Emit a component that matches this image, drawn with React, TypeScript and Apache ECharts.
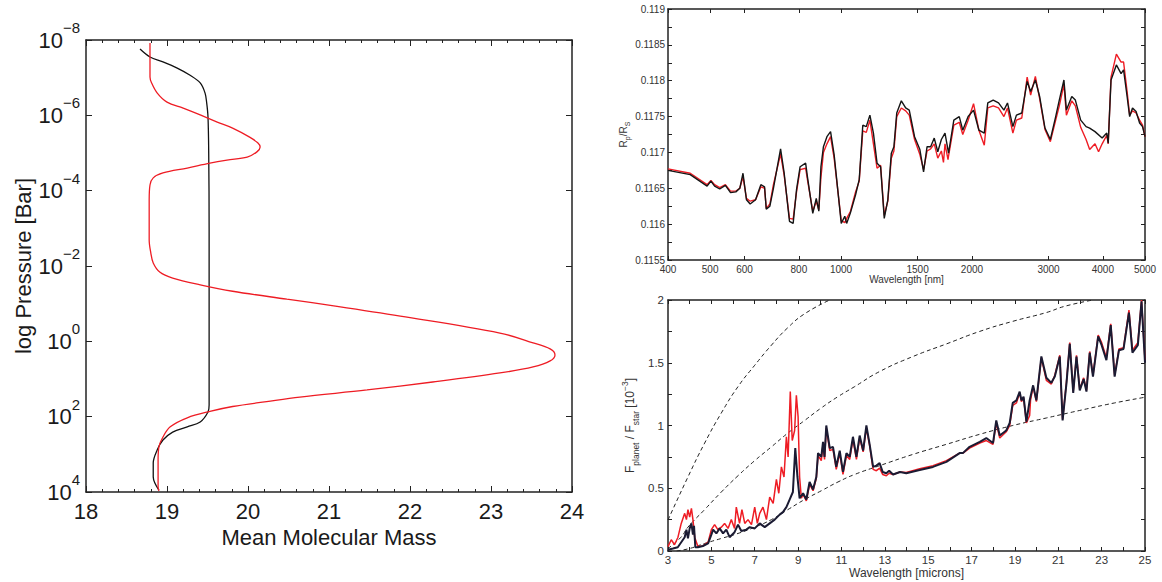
import React, { useEffect, useRef } from "react";
import * as echarts from "echarts";

const FONT = "'Liberation Sans', Arial, Helvetica, sans-serif";

// ---------- Left panel: mean molecular mass vs log10 pressure [bar] ----------
const MMM_RED: [number, number][] = [
  [18.79, -7.92], [18.79, -7.5], [18.79, -7.02], [18.81, -6.86], [18.88, -6.59], [19.0, -6.35],
  [19.2, -6.19], [19.41, -6.01], [19.62, -5.82], [19.81, -5.66], [20.02, -5.42], [20.12, -5.27],
  [20.15, -5.16], [20.11, -5.03], [19.99, -4.89], [19.74, -4.81], [19.53, -4.73], [19.25, -4.6],
  [18.95, -4.47], [18.83, -4.34], [18.79, -4.15], [18.78, -3.75], [18.78, -2.69], [18.8, -2.35],
  [18.83, -2.08], [18.91, -1.84], [19.07, -1.68], [19.41, -1.5], [19.81, -1.33], [20.48, -1.12],
  [21.1, -0.93], [21.88, -0.67], [23.11, -0.22], [23.52, 0.04], [23.73, 0.2], [23.79, 0.36],
  [23.73, 0.52], [23.52, 0.68], [23.11, 0.84], [22.28, 1.08], [21.47, 1.29], [20.64, 1.48],
  [20.23, 1.6], [19.81, 1.73], [19.53, 1.86], [19.25, 2.03], [19.04, 2.27], [18.95, 2.54],
  [18.9, 2.8], [18.89, 3.15], [18.89, 3.49], [18.89, 3.87], [18.9, 3.97],
];
const MMM_BLACK: [number, number][] = [
  [18.667, -7.76], [18.79, -7.55], [18.95, -7.42], [19.12, -7.26], [19.28, -7.07], [19.41, -6.86],
  [19.47, -6.59], [19.49, -6.33], [19.506, -5.96], [19.515, -5.0], [19.52, -3.0], [19.52, 0.0],
  [19.52, 1.69], [19.506, 1.875], [19.41, 2.14], [19.25, 2.27], [19.07, 2.41], [18.95, 2.62],
  [18.88, 2.88], [18.83, 3.23], [18.83, 3.6], [18.85, 3.76], [18.9, 3.95],
];
const PRESSURE_TICK_EXPONENTS = [-8, -6, -4, -2, 0, 2, 4];

// ---------- Top-right panel: Rp/Rs vs wavelength [nm] ----------
const TR_WL_TICKS = [400, 500, 600, 800, 1000, 1500, 2000, 3000, 4000, 5000];
const TR_Y_LABELS = [0.1155, 0.116, 0.1165, 0.117, 0.1175, 0.118, 0.1185, 0.119];
const TR_Y_TICKS = [0.1155, 0.11575, 0.116, 0.11625, 0.1165, 0.11675, 0.117, 0.11725, 0.1175,
  0.11775, 0.118, 0.11825, 0.1185, 0.11875, 0.119];
const TR_BLACK: [number, number][] = [
  [400, 0.11675], [450, 0.11669], [492, 0.11653], [502, 0.1166], [512, 0.11653], [526, 0.11649],
  [542, 0.11654], [557, 0.11644], [573, 0.11645], [585, 0.1165], [595, 0.11671], [606, 0.11634],
  [618, 0.11628], [636, 0.11634], [654, 0.11655], [667, 0.11652], [673, 0.11621], [686, 0.11625],
  [699, 0.1165], [726, 0.11705], [740, 0.11671], [761, 0.11604], [776, 0.11601], [790, 0.11648],
  [805, 0.1168], [829, 0.11685], [837, 0.11666], [861, 0.11615], [877, 0.11636], [889, 0.11618],
  [899, 0.1168], [911, 0.11708], [928, 0.11722], [946, 0.11729], [964, 0.11697], [1001, 0.11601],
  [1020, 0.11611], [1030, 0.11601], [1050, 0.11615], [1080, 0.11641], [1101, 0.11662], [1122, 0.11738],
  [1143, 0.11736], [1165, 0.11752], [1187, 0.11727], [1210, 0.11685], [1233, 0.1168], [1257, 0.11608],
  [1281, 0.11634], [1305, 0.11699], [1323, 0.11708], [1343, 0.11755], [1376, 0.11772], [1408, 0.11762],
  [1435, 0.11759], [1476, 0.11722], [1518, 0.11704], [1548, 0.11673], [1577, 0.11708], [1607, 0.11708],
  [1638, 0.1172], [1669, 0.11701], [1701, 0.11718], [1734, 0.11727], [1767, 0.11699], [1817, 0.11745],
  [1870, 0.1175], [1905, 0.11731], [1960, 0.1175], [2017, 0.11759], [2075, 0.11731], [2135, 0.11727],
  [2175, 0.11769], [2238, 0.11773], [2302, 0.11769], [2369, 0.11759], [2414, 0.11769], [2484, 0.11736],
  [2531, 0.11752], [2604, 0.11755], [2679, 0.11799], [2729, 0.11785], [2798, 0.11801], [2862, 0.11778],
  [2944, 0.11734], [3029, 0.11718], [3116, 0.1175], [3176, 0.11773], [3255, 0.11801], [3298, 0.11759],
  [3393, 0.11778], [3458, 0.11773], [3557, 0.11745], [3660, 0.11736], [3730, 0.11734], [3837, 0.11729],
  [3985, 0.1172], [4084, 0.11727], [4115, 0.11713], [4177, 0.11801], [4297, 0.11822], [4405, 0.1181],
  [4464, 0.11815], [4548, 0.11778], [4610, 0.1175], [4680, 0.11762], [4769, 0.11757], [4859, 0.11741],
  [4935, 0.11736], [5000, 0.11722],
];
const TR_RED: [number, number][] = [
  [400, 0.11677], [450, 0.11671], [492, 0.11655], [502, 0.11661], [512, 0.11655], [526, 0.11651],
  [542, 0.11655], [557, 0.11646], [573, 0.11646], [585, 0.1165], [595, 0.11666], [606, 0.11636],
  [618, 0.11632], [636, 0.11634], [654, 0.11652], [667, 0.1165], [673, 0.11622], [686, 0.11628],
  [699, 0.11655], [726, 0.11698], [740, 0.11668], [761, 0.11608], [776, 0.11607], [790, 0.11645],
  [805, 0.11676], [829, 0.11678], [837, 0.11662], [861, 0.11618], [877, 0.11632], [889, 0.1162],
  [899, 0.11665], [911, 0.117], [928, 0.11712], [946, 0.11722], [964, 0.11692], [1001, 0.11605],
  [1020, 0.11602], [1030, 0.11608], [1050, 0.11617], [1080, 0.11645], [1101, 0.1166], [1122, 0.1173],
  [1143, 0.11728], [1165, 0.11745], [1187, 0.11712], [1210, 0.11678], [1233, 0.11682], [1257, 0.11612],
  [1281, 0.11632], [1305, 0.11692], [1323, 0.11702], [1343, 0.1175], [1376, 0.11762], [1408, 0.11758],
  [1435, 0.11752], [1476, 0.11718], [1518, 0.11697], [1548, 0.11676], [1577, 0.11702], [1607, 0.11705],
  [1638, 0.11712], [1669, 0.11692], [1701, 0.11702], [1720, 0.11686], [1734, 0.11712], [1762, 0.1169],
  [1767, 0.11695], [1817, 0.11738], [1870, 0.11742], [1905, 0.11725], [1960, 0.11745], [2017, 0.11768],
  [2075, 0.11731], [2135, 0.1171], [2175, 0.11762], [2238, 0.11765], [2302, 0.11762], [2369, 0.1175],
  [2414, 0.11762], [2484, 0.11727], [2531, 0.11745], [2604, 0.11748], [2679, 0.11805], [2729, 0.1178],
  [2798, 0.11806], [2862, 0.11775], [2944, 0.11732], [3029, 0.11715], [3116, 0.11745], [3176, 0.11765],
  [3255, 0.11795], [3298, 0.11752], [3393, 0.11772], [3458, 0.11765], [3557, 0.11735], [3660, 0.11718],
  [3730, 0.11704], [3837, 0.11712], [3910, 0.11701], [3985, 0.11712], [4084, 0.11724], [4115, 0.11712],
  [4177, 0.11805], [4297, 0.11837], [4405, 0.11826], [4464, 0.11826], [4548, 0.11785], [4610, 0.11752],
  [4680, 0.11758], [4769, 0.11755], [4859, 0.11745], [4935, 0.11738], [5000, 0.11722],
];

// ---------- Bottom-right panel: Fplanet/Fstar [1e-3] vs wavelength [microns] ----------
const BR_BLACK: [number, number][] = [
  [3, 0.01], [3.23, 0.02], [3.45, 0.03], [3.61, 0.07], [3.77, 0.11], [3.85, 0.17], [3.92, 0.1],
  [4.0, 0.18], [4.08, 0.22], [4.15, 0.13], [4.2, 0.2], [4.26, 0.03], [4.38, 0.03], [4.61, 0.04],
  [4.85, 0.06], [5.0, 0.13], [5.08, 0.17], [5.23, 0.14], [5.38, 0.18], [5.54, 0.14], [5.69, 0.17],
  [5.84, 0.11], [6.07, 0.15], [6.23, 0.21], [6.38, 0.16], [6.61, 0.17], [6.77, 0.19], [7.0, 0.18],
  [7.23, 0.22], [7.46, 0.19], [7.69, 0.22], [7.92, 0.25], [8.15, 0.29], [8.3, 0.31], [8.46, 0.35],
  [8.61, 0.41], [8.76, 0.47], [8.87, 0.82], [8.97, 0.59], [9.07, 0.42], [9.23, 0.46], [9.38, 0.41],
  [9.53, 0.55], [9.69, 0.49], [9.84, 0.59], [9.92, 0.78], [10.07, 0.75], [10.15, 0.87], [10.22, 0.75],
  [10.3, 1.0], [10.46, 0.82], [10.61, 0.83], [10.76, 0.67], [10.92, 0.8], [11.07, 0.63], [11.23, 0.78],
  [11.38, 0.75], [11.53, 0.91], [11.69, 0.75], [11.84, 0.92], [12.0, 0.8], [12.15, 1.0], [12.3, 0.85],
  [12.46, 0.67], [12.61, 0.68], [12.76, 0.7], [12.9, 0.63], [13.07, 0.62], [13.2, 0.64], [13.38, 0.61],
  [13.7, 0.63], [13.99, 0.62], [14.61, 0.645], [15.22, 0.67], [15.84, 0.71], [16.45, 0.78], [16.6, 0.78],
  [16.91, 0.83], [17.38, 0.87], [17.68, 0.9], [17.99, 0.86], [18.14, 1.04], [18.3, 0.92], [18.6, 0.96],
  [18.76, 1.02], [18.9, 1.18], [19.07, 1.2], [19.22, 1.27], [19.3, 1.2], [19.4, 1.23], [19.53, 1.03],
  [19.68, 1.2], [19.84, 1.32], [19.99, 1.2], [20.22, 1.55], [20.45, 1.38], [20.68, 1.34], [20.84, 1.39],
  [21.07, 1.55], [21.2, 1.04], [21.38, 1.34], [21.53, 1.65], [21.69, 1.26], [21.84, 1.55], [21.99, 1.28],
  [22.17, 1.37], [22.3, 1.27], [22.45, 1.58], [22.6, 1.39], [22.84, 1.71], [23.0, 1.64], [23.22, 1.52],
  [23.42, 1.8], [23.6, 1.39], [23.8, 1.6], [24.01, 1.61], [24.26, 1.9], [24.42, 1.58], [24.67, 1.64],
  [24.84, 1.99], [25.0, 1.5],
];
const BR_RED: [number, number][] = [
  [3, 0.035], [3.15, 0.09], [3.3, 0.05], [3.46, 0.11], [3.61, 0.22], [3.77, 0.3], [3.85, 0.25],
  [3.92, 0.33], [4.0, 0.27], [4.08, 0.34], [4.15, 0.25], [4.23, 0.11], [4.38, 0.035], [4.61, 0.04],
  [4.85, 0.07], [5.0, 0.17], [5.15, 0.21], [5.3, 0.17], [5.46, 0.19], [5.61, 0.22], [5.77, 0.18],
  [5.92, 0.25], [6.07, 0.18], [6.15, 0.35], [6.3, 0.22], [6.41, 0.33], [6.54, 0.22], [6.69, 0.25],
  [6.85, 0.21], [7.0, 0.35], [7.12, 0.22], [7.23, 0.3], [7.38, 0.35], [7.54, 0.25], [7.69, 0.43],
  [7.85, 0.38], [8.0, 0.57], [8.11, 0.46], [8.23, 0.67], [8.35, 0.59], [8.46, 0.91], [8.54, 0.75],
  [8.64, 1.27], [8.73, 0.88], [8.84, 0.96], [8.92, 1.24], [9.0, 1.07], [9.07, 0.59], [9.15, 0.42],
  [9.23, 0.45], [9.38, 0.4], [9.53, 0.53], [9.69, 0.48], [9.84, 0.58], [9.92, 0.76], [10.07, 0.72],
  [10.15, 0.85], [10.22, 0.73], [10.3, 0.98], [10.46, 0.8], [10.61, 0.81], [10.76, 0.65], [10.92, 0.78],
  [11.07, 0.61], [11.23, 0.76], [11.38, 0.73], [11.53, 0.89], [11.69, 0.73], [11.84, 0.9], [12.0, 0.79],
  [12.15, 0.98], [12.3, 0.84], [12.46, 0.65], [12.61, 0.64], [12.76, 0.66], [12.9, 0.61], [13.07, 0.6],
  [13.2, 0.62], [13.38, 0.61], [13.7, 0.63], [13.99, 0.625], [14.61, 0.655], [15.22, 0.68], [15.84, 0.72],
  [16.45, 0.78], [16.6, 0.78], [16.91, 0.82], [17.38, 0.86], [17.68, 0.88], [17.99, 0.85], [18.14, 1.02],
  [18.3, 0.9], [18.6, 0.95], [18.76, 1.0], [18.9, 1.16], [19.07, 1.18], [19.22, 1.26], [19.3, 1.19],
  [19.4, 1.22], [19.53, 1.02], [19.68, 1.08], [19.72, 1.2], [19.84, 1.31], [19.99, 1.19], [20.22, 1.54],
  [20.45, 1.36], [20.68, 1.33], [20.84, 1.4], [21.07, 1.56], [21.2, 1.05], [21.38, 1.35], [21.53, 1.66],
  [21.69, 1.27], [21.84, 1.56], [21.99, 1.29], [22.17, 1.38], [22.3, 1.28], [22.45, 1.59], [22.6, 1.4],
  [22.84, 1.72], [23.0, 1.66], [23.22, 1.54], [23.42, 1.81], [23.6, 1.4], [23.8, 1.61], [24.01, 1.62],
  [24.26, 1.92], [24.42, 1.6], [24.67, 1.66], [24.84, 2.0], [25.0, 1.52],
];
const BR_BB_HOT: [number, number][] = [
  [3, 0.247], [3.92, 0.59], [4.69, 0.86], [5.46, 1.1], [6.23, 1.31], [7.0, 1.48], [7.77, 1.64],
  [8.53, 1.78], [9.3, 1.89], [10.46, 2.0],
];
const BR_BB_MID: [number, number][] = [
  [3, 0.02], [3.6, 0.11], [3.92, 0.19], [4.69, 0.33], [5.46, 0.47], [6.23, 0.6], [7.0, 0.72],
  [7.77, 0.83], [8.53, 0.94], [9.3, 1.04], [10.07, 1.14], [10.84, 1.23], [11.61, 1.31], [12.76, 1.43],
  [14.3, 1.55], [15.84, 1.65], [17.38, 1.75], [18.9, 1.83], [20.45, 1.9], [21.3, 1.95], [22.6, 2.0],
];
const BR_BB_COOL: [number, number][] = [
  [3.4, 0.0], [4.0, 0.02], [4.69, 0.06], [5.46, 0.1], [6.23, 0.14], [7.0, 0.19], [7.77, 0.25],
  [8.53, 0.33], [9.3, 0.41], [10.07, 0.48], [10.84, 0.55], [11.61, 0.61], [12.76, 0.68], [14.3, 0.77],
  [15.84, 0.85], [17.38, 0.93], [18.9, 1.0], [20.45, 1.06], [21.99, 1.12], [23.6, 1.18], [25, 1.225],
];

const RED = "#ee1c24";
const DARK = "#1b1b33";
const AXIS_COLOR = "#222";

function frameAxis(extra: any) {
  return {
    axisLine: { show: true, onZero: false, lineStyle: { color: AXIS_COLOR, width: 1.5 } },
    splitLine: { show: false },
    ...extra,
  };
}

export default function App() {
  const ref = useRef<HTMLDivElement>(null);
  useEffect(() => {
    if (!ref.current) return;
    const chart = echarts.init(ref.current, undefined, { renderer: "svg" });

    const leftX = (pos: "bottom" | "top", labels: boolean) =>
      frameAxis({
        type: "value", gridIndex: 0, position: pos, min: 18, max: 24, interval: 1,
        axisTick: { show: true, inside: true, length: 6, lineStyle: { color: AXIS_COLOR } },
        minorTick: { show: true, splitNumber: 5, length: 3, lineStyle: { color: AXIS_COLOR } },
        axisLabel: { show: labels, fontSize: 22, fontFamily: FONT, color: "#1a1a1a", margin: 8 },
        name: labels ? "Mean Molecular Mass" : "",
        nameLocation: "middle", nameGap: 32,
        nameTextStyle: { fontSize: 22, fontFamily: FONT, color: "#1a1a1a" },
      });
    const pTicks = PRESSURE_TICK_EXPONENTS.map((e) => Math.pow(10, e));
    const leftY = (pos: "left" | "right", labels: boolean) =>
      frameAxis({
        type: "log", logBase: 10, gridIndex: 0, position: pos, min: 1e-8, max: 1e4, inverse: true,
        axisTick: { show: true, inside: true, length: 6, customValues: pTicks, lineStyle: { color: AXIS_COLOR } },
        axisLabel: {
          show: labels, customValues: pTicks, margin: 6,
          formatter: (v: number) => {
            const e = Math.round(Math.log10(v));
            return `{b|10}{s|${e < 0 ? "\u2212" : ""}${Math.abs(e)}}`;
          },
          rich: {
            b: { fontSize: 22, fontFamily: FONT, color: "#1a1a1a", lineHeight: 40, verticalAlign: "middle" },
            s: { fontSize: 15, fontFamily: FONT, color: "#1a1a1a", verticalAlign: "top" },
          },
        },
        name: labels ? "log Pressure [Bar]" : "",
        nameLocation: "middle", nameGap: 50, nameRotate: 90,
        nameTextStyle: { fontSize: 22, fontFamily: FONT, color: "#1a1a1a" },
      });

    const trX = (pos: "bottom" | "top", labels: boolean) =>
      frameAxis({
        type: "log", logBase: 10, gridIndex: 1, position: pos, min: 400, max: 5000,
        axisTick: { show: true, inside: true, length: 4, customValues: TR_WL_TICKS, lineStyle: { color: AXIS_COLOR } },
        axisLabel: {
          show: labels, customValues: TR_WL_TICKS, fontSize: 10, fontFamily: FONT, color: "#333", margin: 4,
          formatter: (v: number) => String(Math.round(v)),
        },
        name: labels ? "Wavelength [nm]" : "",
        nameLocation: "middle", nameGap: 14,
        nameTextStyle: { fontSize: 10, fontFamily: FONT, color: "#333" },
      });
    const trY = (pos: "left" | "right", labels: boolean) =>
      frameAxis({
        type: "value", gridIndex: 1, position: pos, min: 0.1155, max: 0.119,
        axisTick: { show: true, inside: true, length: 4, customValues: TR_Y_TICKS, lineStyle: { color: AXIS_COLOR } },
        axisLabel: {
          show: labels, customValues: TR_Y_LABELS, fontSize: 10, fontFamily: FONT, color: "#333", margin: 3,
          formatter: (v: number) => String(Math.round(v * 10000) / 10000),
        },
        name: labels ? "{n|R}{sub|p}{n|/R}{sub|S}" : "",
        nameLocation: "middle", nameGap: 34, nameRotate: 90,
        nameTextStyle: {
          rich: {
            n: { fontSize: 10, fontFamily: FONT, color: "#333", lineHeight: 16, verticalAlign: "middle" },
            sub: { fontSize: 7, fontFamily: FONT, color: "#333", verticalAlign: "bottom" },
          },
        },
      });

    const brX = (pos: "bottom" | "top", labels: boolean) =>
      frameAxis({
        type: "value", gridIndex: 2, position: pos, min: 3, max: 25, interval: 1,
        axisTick: { show: true, inside: true, length: 4, lineStyle: { color: AXIS_COLOR } },
        axisLabel: {
          show: labels, fontSize: 11.5, fontFamily: FONT, color: "#333", margin: 3,
          formatter: (v: number) => (Math.round(v) % 2 === 1 ? String(Math.round(v)) : ""),
        },
        name: labels ? "Wavelength [microns]" : "",
        nameLocation: "middle", nameGap: 14,
        nameTextStyle: { fontSize: 12, fontFamily: FONT, color: "#333" },
      });
    const brY = (pos: "left" | "right", labels: boolean) =>
      frameAxis({
        type: "value", gridIndex: 2, position: pos, min: 0, max: 2, interval: 0.25,
        axisTick: { show: true, inside: true, length: 4, lineStyle: { color: AXIS_COLOR } },
        axisLabel: {
          show: labels, fontSize: 11.5, fontFamily: FONT, color: "#333", margin: 4,
          formatter: (v: number) => (Math.abs(v * 2 - Math.round(v * 2)) < 1e-6 ? String(v) : ""),
        },
        name: labels ? "{n|F}{sub|planet}{n| / F}{sub|star}{n| [10}{sup|\u22123}{n|]}" : "",
        nameLocation: "middle", nameGap: 28, nameRotate: 90,
        nameTextStyle: {
          rich: {
            n: { fontSize: 12, fontFamily: FONT, color: "#333", lineHeight: 20, verticalAlign: "middle" },
            sub: { fontSize: 8.5, fontFamily: FONT, color: "#333", verticalAlign: "bottom" },
            sup: { fontSize: 8.5, fontFamily: FONT, color: "#333", verticalAlign: "top" },
          },
        },
      });

    const lineSeries = (data: any[], xi: number, color: string, width: number, extra: any = {}) => ({
      type: "line", xAxisIndex: xi, yAxisIndex: xi, data, showSymbol: false, symbol: "none",
      lineStyle: { color, width }, ...extra,
    });

    const option: any = {
      animation: false,
      backgroundColor: "#fff",
      grid: [
        { left: 86, top: 40, width: 486, height: 452 },
        { left: 668, top: 9, width: 477, height: 251 },
        { left: 668, top: 300, width: 477, height: 251 },
      ],
      xAxis: [leftX("bottom", true), leftX("top", false), trX("bottom", true), trX("top", false), brX("bottom", true), brX("top", false)],
      yAxis: [leftY("left", true), leftY("right", false), trY("left", true), trY("right", false), brY("left", true), brY("right", false)],
      series: [
        lineSeries(MMM_BLACK.map(([m, lp]) => [m, Math.pow(10, lp)]), 0, "#111", 1.3, { smooth: 0.35 }),
        lineSeries(MMM_RED.map(([m, lp]) => [m, Math.pow(10, lp)]), 0, RED, 1.3, { smooth: 0.35 }),
        lineSeries(TR_RED, 2, RED, 1.4),
        lineSeries(TR_BLACK, 2, "#151515", 1.4),
        lineSeries(BR_BB_HOT, 4, "#222", 1, { smooth: true, lineStyle: { color: "#222", width: 1, type: [4, 3] } }),
        lineSeries(BR_BB_MID, 4, "#222", 1, { smooth: true, lineStyle: { color: "#222", width: 1, type: [4, 3] } }),
        lineSeries(BR_BB_COOL, 4, "#222", 1, { smooth: true, lineStyle: { color: "#222", width: 1, type: [4, 3] } }),
        lineSeries(BR_RED, 4, RED, 1.5),
        lineSeries(BR_BLACK, 4, DARK, 2),
      ],
    };
    chart.setOption(option);
    return () => chart.dispose();
  }, []);
  return <div ref={ref} style={{ position: "absolute", left: 0, top: 0, width: 1162, height: 582, background: "#fff" }} />;
}
